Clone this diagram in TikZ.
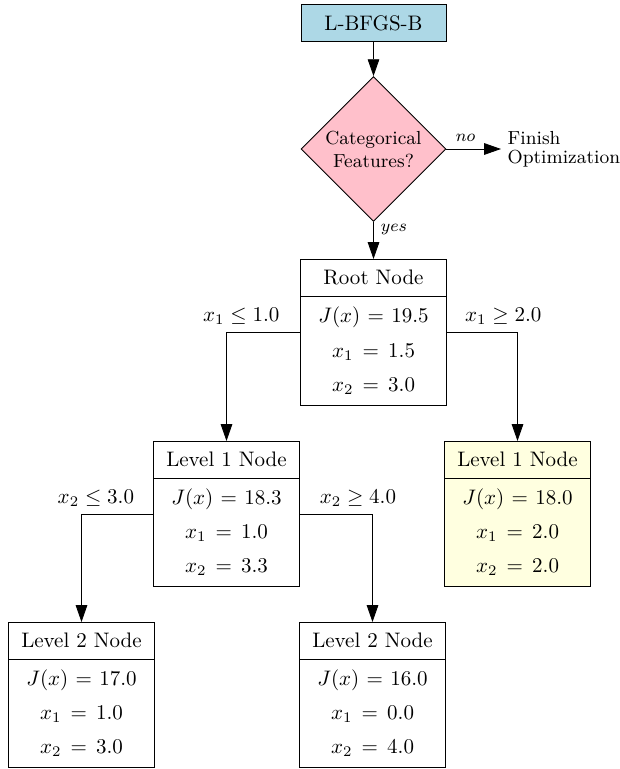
\documentclass[tikz,border=0pt]{standalone}
\usepackage{tikz}
\usetikzlibrary{shapes.geometric,shapes.multipart,arrows.meta}
\definecolor{boxblue}{RGB}{173,216,230}
\definecolor{boxpink}{RGB}{255,192,203}
\definecolor{boxyellow}{RGB}{255,255,224}

\begin{document}
\begin{tikzpicture}[x=0.476pt, y=-0.476pt, >={Triangle[length=8pt,width=5.5pt]},
  treenode/.style={rectangle split, rectangle split parts=2, draw, fill=white, anchor=north,
    text width=62.5pt, align=center, inner ysep=5pt},
  branch/.style={font=\normalsize, above, pos=0.4}]
  \useasboundingbox (0,0) rectangle (619,769);
  \node[draw, fill=boxblue, minimum width=69pt, minimum height=17.5pt] (lbfgs) at (373.5,23) {L-BFGS-B};
  \node[diamond, draw, fill=boxpink, aspect=1, minimum width=69pt, minimum height=69pt,
    inner sep=0pt, font=\small, align=center] (cat) at (373.5,149) {Categorical\\Features?};
  \node[anchor=west, font=\small, align=left, inner sep=3pt] (finish) at (501,149) {Finish\\[-2pt]Optimization};
  \node[treenode] (root) at (373.5,259) {Root Node\nodepart{two}$J(x)=19.5$\\[4.2pt]$x_1=1.5$\\[4.2pt]$x_2=3.0$};
  \node[treenode] (lvlA) at (226.5,441) {Level 1 Node\nodepart{two}$J(x)=18.3$\\[4.2pt]$x_1=1.0$\\[4.2pt]$x_2=3.3$};
  \node[treenode, fill=boxyellow] (lvlB) at (517.5,441) {Level 1 Node\nodepart{two}$J(x)=18.0$\\[4.2pt]$x_1=2.0$\\[4.2pt]$x_2=2.0$};
  \node[treenode] (lvlAA) at (81.5,622) {Level 2 Node\nodepart{two}$J(x)=17.0$\\[4.2pt]$x_1=1.0$\\[4.2pt]$x_2=3.0$};
  \node[treenode] (lvlAB) at (372.5,622) {Level 2 Node\nodepart{two}$J(x)=16.0$\\[4.2pt]$x_1=0.0$\\[4.2pt]$x_2=4.0$};
  \draw[->] (lbfgs) -- (cat);
  \draw[->] (cat.east) -- (finish.west) node[pos=0.35, above, font=\footnotesize] {$no$};
  \draw[->] (cat.south) -- (root.north) node[pos=0.2, right, font=\footnotesize] {$yes$};
  \draw[->] (root.west) -| (lvlA.north) node[branch] {$x_1 \leq 1.0$};
  \draw[->] (root.east) -| (lvlB.north) node[branch] {$x_1 \geq 2.0$};
  \draw[->] (lvlA.west) -| (lvlAA.north) node[branch] {$x_2 \leq 3.0$};
  \draw[->] (lvlA.east) -| (lvlAB.north) node[branch] {$x_2 \geq 4.0$};
\end{tikzpicture}
\end{document}
